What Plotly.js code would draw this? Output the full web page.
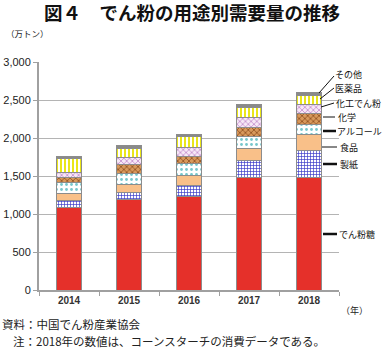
<!DOCTYPE html>
<html><head><meta charset="utf-8">
<script src="https://cdn.plot.ly/plotly-3.0.1.min.js"></script>
<style>html,body{margin:0;padding:0;background:#fff}#chart{width:384px;height:356px}</style>
</head><body><div id="chart"></div>
<script>
const years = ['2014','2015','2016','2017','2018'];
const seriesNames = ['でん粉糖','製紙','食品','アルコール','化学','化工でん粉','医薬品','その他'];
const sugar    = [1090, 1190, 1225, 1480, 1480];
const paperUse = [88, 88, 150, 218, 350];
const food     = [96, 105, 131, 166, 218];
const alcohol  = [136, 144, 153, 152, 131];
const chemical = [73, 122, 96, 118, 144];
const modified = [66, 88, 122, 140, 118];
const pharma   = [180, 131, 140, 131, 118];
const other    = [26, 30, 26, 35, 34];
const yTicks = [0, 500, 1000, 1500, 2000, 2500, 3000];

const values = [sugar, paperUse, food, alcohol, chemical, modified, pharma, other];
const styles = [
  {color:'#e5302a'},
  {color:'#ffffff', pattern:{shape:'+', fgcolor:'#3a3ac8', bgcolor:'#ffffff', size:3, solidity:0.4}},
  {color:'#f9c089'},
  {color:'#ffffff', pattern:{shape:'.', fgcolor:'#76c6cc', bgcolor:'#ffffff', size:5, solidity:0.25}},
  {color:'#d8995c', pattern:{shape:'x', fgcolor:'#8a4a1c', bgcolor:'#d8995c', size:4, solidity:0.35}},
  {color:'#ffffff', pattern:{shape:'x', fgcolor:'#b877c4', bgcolor:'#f6e8f6', size:4, solidity:0.3}},
  {color:'#ffffff', pattern:{shape:'|', fgcolor:'#e8e400', bgcolor:'#ffffff', size:4, solidity:0.45}},
  {color:'#8a8a8a'}
];
const traces = values.map((v,i)=>({
  type:'bar', x:years, y:v, name:seriesNames[i], width:0.41,
  marker:Object.assign({line:{color:'#8c8c8c', width:1}}, styles[i]),
  hoverinfo:'skip'
}));

// paper coordinate helpers (plot area: x 39..339, y 62..290)
const px = p => (p-39)/300;
const py = p => (290-p)/228;

const leaders = [
  {label:'その他',   a:[319,93],  b:[334,76],  t:[334,75],  w:1},
  {label:'医薬品',   a:[320,99],  b:[334,88],  t:[334,88],  w:1},
  {label:'化工でん粉', a:[321,107], b:[334,103], t:[335,103], w:1},
  {label:'化学',     a:[323,117], b:[335,117], t:[337,117], w:1},
  {label:'アルコール', a:[323,131], b:[336,131], t:[336,131], w:2.5},
  {label:'食品',     a:[322,147], b:[337,147], t:[339,147], w:1},
  {label:'製紙',     a:[323,164], b:[337,164], t:[339,164], w:2.5},
  {label:'でん粉糖',  a:[323,234], b:[337,234], t:[338,234], w:2.5}
];
const shapes = leaders.map(l=>({type:'line', xref:'paper', yref:'paper',
  x0:px(l.a[0]), y0:py(l.a[1]), x1:px(l.b[0]), y1:py(l.b[1]),
  line:{color:'#111', width:l.w}}));
const jp = '"Noto Sans CJK JP", sans-serif';
const annotations = leaders.map(l=>({xref:'paper', yref:'paper', x:px(l.t[0]), y:py(l.t[1]),
  xanchor:'left', yanchor:'middle', showarrow:false, text:l.label, borderpad:0,
  font:{family:jp, size:9, color:'#111'}}));
annotations.push(
  {xref:'paper', yref:'paper', x:px(4), y:py(33), xanchor:'left', yanchor:'middle', showarrow:false,
   text:'（万トン）', font:{family:jp, size:8.5, color:'#222'}},
  {xref:'paper', yref:'paper', x:px(339), y:py(310), xanchor:'left', yanchor:'middle', showarrow:false,
   text:'（年）', font:{family:jp, size:9, color:'#222'}},
  {xref:'paper', yref:'paper', x:px(0), y:py(324), xanchor:'left', yanchor:'middle', showarrow:false,
   text:'資料：中国でん粉産業協会', font:{family:jp, size:11.5, color:'#222'}},
  {xref:'paper', yref:'paper', x:px(11), y:py(341), xanchor:'left', yanchor:'middle', showarrow:false,
   text:'注：2018年の数値は、コーンスターチの消費データである。', font:{family:jp, size:11.5, color:'#222'}}
);

const layout = {
  width:384, height:356,
  margin:{l:39, r:45, t:62, b:66},
  paper_bgcolor:'#fff', plot_bgcolor:'#fff',
  barmode:'stack', showlegend:false,
  title:{text:'<b>図４　でん粉の用途別需要量の推移</b>', x:0.51, xanchor:'center', xref:'paper',
         y:1-14/356, yref:'container', yanchor:'middle',
         font:{family:jp, size:18.5, color:'#111'}},
  xaxis:{type:'category', range:[-0.5,4.5], showline:true, linecolor:'#a0a0a0', linewidth:2,
         ticks:'outside', tickson:'boundaries', ticklen:4, tickcolor:'#a0a0a0',
         tickfont:{family:'"Liberation Sans", Arial, sans-serif', size:10, color:'#333', weight:'bold'},
         showgrid:false, fixedrange:true},
  yaxis:{range:[0,3000], tickvals:yTicks, tickformat:',', showline:true, linecolor:'#a0a0a0', linewidth:2,
         ticks:'outside', ticklen:4, tickcolor:'#a0a0a0', gridcolor:'#b4b4b4', gridwidth:1,
         zeroline:false, tickfont:{family:'"Liberation Sans", Arial, sans-serif', size:11, color:'#222'},
         fixedrange:true},
  shapes:shapes, annotations:annotations
};
Plotly.newPlot('chart', traces, layout, {displayModeBar:false, staticPlot:true});
</script></body></html>
